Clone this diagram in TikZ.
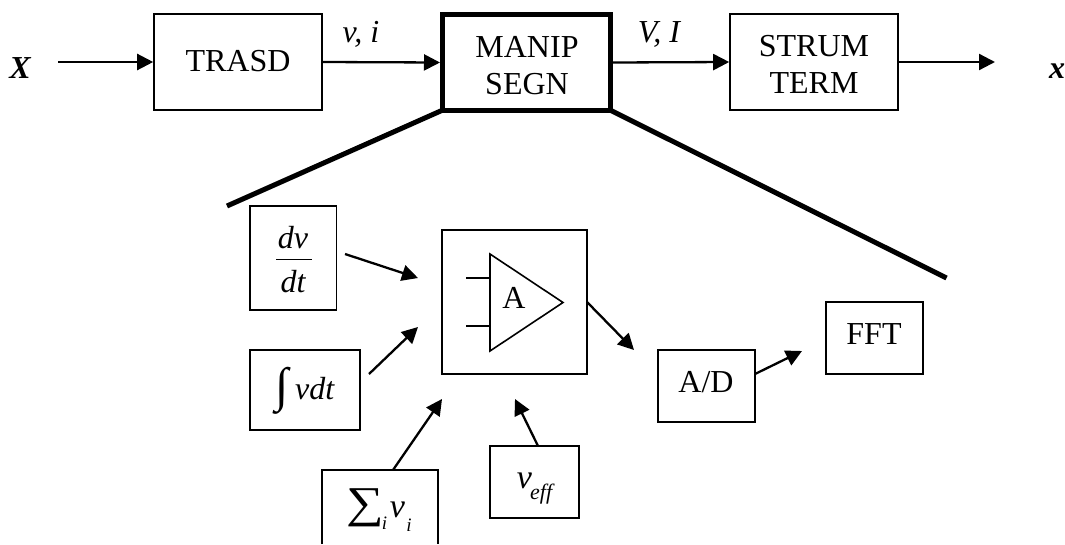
\documentclass[tikz,border=0pt]{standalone}
\usepackage{fontspec}
\usepackage{graphicx}
\setmainfont{Liberation Serif}
\usetikzlibrary{arrows.meta}
\tikzset{
  blockbox/.style={draw=black,line width=1.6pt,inner sep=0pt,fill=none},
  conn/.style={line width=2.3pt,-{Triangle[length=16pt,width=16pt]}},
  lab/.style={inner sep=0pt,font=\fontsize{32}{37}\selectfont,align=center},
  blab/.style={inner sep=0pt,anchor=base,font=\fontsize{32}{37}\selectfont},
  ilab/.style={inner sep=0pt,anchor=base,font=\fontsize{32}{37}\selectfont\itshape},
  slab/.style={inner sep=0pt,anchor=base,font=\fontsize{19}{22}\selectfont\itshape},
  bilab/.style={inner sep=0pt,anchor=base,font=\fontsize{32}{37}\selectfont\itshape\bfseries},
  thin line/.style={line width=1.6pt},
  thick line/.style={line width=5pt,line cap=butt},
  boxat/.style args={#1x#2}{blockbox,minimum width=#1pt,minimum height=#2pt}
}
\begin{document}
\begin{tikzpicture}[x=1pt,y=-1pt]
\useasboundingbox[fill=white] (0,0) rectangle (1065,544);
% top row
\node[boxat=168x96] (trasd) at (238,62) {};
\node[blab] (trasdt) at (238,71) {TRASD};
\node[blockbox,line width=5pt,minimum width=168pt,minimum height=96pt] (manip) at (526.5,62.5) {};
\node[lab] (manipt) at (527,66) {MANIP\\SEGN};
\node[boxat=168x96] (strum) at (814,62) {};
\node[lab] (strumt) at (814,64.5) {STRUM\\TERM};
\node[bilab] (X) at (20,78) {X};
\node[bilab] (xout) at (1057,78) {x};
\node[ilab] (vi) at (361,42) {v, i};
\node[ilab] (VI) at (659,42) {V, I};
\coordinate (xstart) at (58,62);
\coordinate (xend) at (995,62);
\draw[conn] (xstart) -- (trasd.west);
\draw[conn] (trasd.east) -- (manip.west);
\draw[conn] (manip.east) -- (strum.west);
\draw[conn] (strum.east) -- (xend);
% zoom lines
\coordinate (zl) at (227,206);
\coordinate (zr) at (946.5,278);
\coordinate (ml) at (444,109.5);
\coordinate (mr) at (609,109.5);
\draw[thick line] (ml) -- (zl);
\draw[thick line] (mr) -- (zr);
% amp block
\node[boxat=145x144] (amp) at (514.5,302) {};
\coordinate (ta) at (490,254);
\coordinate (tb) at (490,351);
\coordinate (tc) at (563,302.5);
\draw[thin line,line join=miter] (ta) -- (tc) -- (tb) -- cycle;
\coordinate (i1) at (466,278);
\coordinate (i1e) at (490,278);
\coordinate (i2) at (466,326);
\coordinate (i2e) at (490,326);
\draw[thin line] (i1) -- (i1e);
\draw[thin line] (i2) -- (i2e);
\node[blab] (A) at (514,308) {A};
% dv/dt
\node[boxat=86.5x104] (dvdt) at (293.3,258) {};
\node[ilab] (dv) at (293,248) {dv};
\node[ilab] (dt) at (293,292) {dt};
\coordinate (f1) at (276,259.5);
\coordinate (f2) at (312,259.5);
\draw[line width=1.3pt] (f1) -- (f2);
\coordinate (dvs) at (345,254);
\coordinate (dve) at (418,278);
\draw[conn] (dvs) -- (dve);
% integral
\node[boxat=110x80] (int) at (305,390) {};
\node[inner sep=0pt,font=\fontsize{48}{52}\selectfont] (intg) at (282.5,390.5) {∫};
\node[ilab,anchor=base west] (vdt) at (295,399) {vdt};
\coordinate (ints) at (369,374);
\coordinate (inte) at (418,327);
\draw[conn] (ints) -- (inte);
% sum
\coordinate (sumbl) at (322,544);
\coordinate (sumbr) at (438,544);
\coordinate (sumtl) at (322,470);
\coordinate (sumtr) at (438,470);
\draw[blockbox] (sumbl) -- (sumtl) -- (sumtr) -- (sumbr);
\coordinate (sums) at (393,470);
\coordinate (sume) at (442,399);
\draw[conn] (sums) -- (sume);
\node[inner sep=0pt,font=\fontsize{44}{48}\selectfont] (sg) at (365,508) {\scalebox{1.2}[1]{∑}};
\node[slab] (si) at (384.5,529) {i};
\node[ilab,font=\fontsize{34}{38}\selectfont\itshape] (sv) at (397.5,517) {v};
\node[slab] (svi) at (409,531) {i};
% veff
\node[boxat=89x72] (veff) at (534.5,482) {};
\node[ilab,font=\fontsize{34}{38}\selectfont\itshape] (vv) at (524.5,488) {v};
\node[slab,anchor=base west,font=\fontsize{22}{24}\selectfont\itshape] (eff) at (530,499) {eff};
\coordinate (vs) at (538,446);
\coordinate (ve) at (515,399);
\draw[conn] (vs) -- (ve);
% output
\coordinate (aout) at (587,302);
\coordinate (aoute) at (634,350);
\draw[conn] (aout) -- (aoute);
\node[boxat=97x72] (ad) at (706.5,386) {};
\node[blab] (adt) at (706,392) {A/D};
\coordinate (ads) at (755,374);
\coordinate (ade) at (802,351);
\draw[conn] (ads) -- (ade);
\node[boxat=97x72] (fft) at (874.5,338) {};
\node[blab] (fftt) at (874,344) {FFT};
\end{tikzpicture}
\end{document}
